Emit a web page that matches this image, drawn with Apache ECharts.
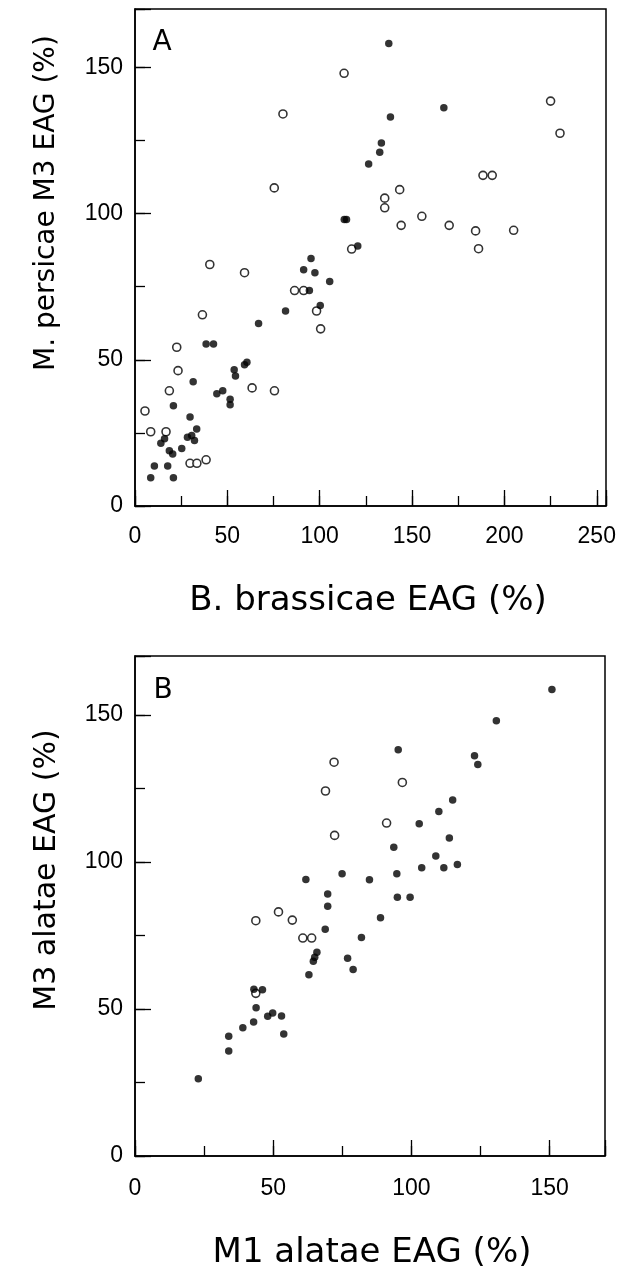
<!DOCTYPE html>
<html>
<head>
<meta charset="utf-8">
<script src="https://cdn.jsdelivr.net/npm/echarts@6/dist/echarts.min.js"></script>
<style>
html,body{margin:0;padding:0;background:#fff;}
#chart{width:631px;height:1270px;}
</style>
</head>
<body>
<div id="chart"></div>
<script>
// Panel A: B. brassicae EAG (%) vs M. persicae M3 EAG (%)
const aOpen = [
  [113.2,148],[80.1,134.1],[225,138.5],[230.1,127.5],[188.4,113.1],[193.4,113.1],
  [75.4,108.8],[143.3,108.2],[135.2,105.3],[135.2,102],[155.3,99.1],[144.1,96],
  [170.1,96],[184.4,94.1],[205,94.3],[186,88],[117.3,87.9],[86.4,73.7],[91.3,73.7],
  [98.3,66.7],[100.5,60.6],[40.5,82.6],[59.3,79.8],[36.5,65.4],[22.6,54.3],[23.3,46.3],
  [18.6,39.4],[5.4,32.5],[8.5,25.4],[16.8,25.4],[29.8,14.6],[33.5,14.6],[38.5,15.8],
  [63.4,40.4],[75.5,39.4]
];
const aFilled = [
  [137.4,158.2],[167.2,136.2],[138.3,133.1],[133.4,124.2],[132.5,121],[126.5,117],
  [113.3,98],[114.5,98],[120.6,88.9],[95.3,84.7],[91.3,80.8],[97.4,79.8],[105.4,76.8],
  [94.4,73.7],[100.3,68.6],[81.5,66.7],[66.9,62.4],[38.5,55.4],[42.5,55.4],[53.7,46.6],
  [54.4,44.5],[59.3,48.3],[60.6,49.2],[31.5,42.5],[20.8,34.3],[29.8,30.4],[14.0,21.5],
  [16.0,23.0],[28.4,23.5],[30.7,24.1],[33.4,26.3],[32.2,22.4],[25.3,19.7],[18.6,18.9],
  [20.4,17.8],[10.5,13.7],[17.7,13.7],[8.5,9.7],[20.8,9.7],[44.3,38.4],[47.5,39.4],
  [51.5,36.5],[51.5,34.6]
];
// Panel B: M1 alatae EAG (%) vs M3 alatae EAG (%)
const bOpen = [
  [72,133.9],[96.7,127],[68.9,124.1],[91,113.2],[72.2,109],[43.7,80],[51.9,83],
  [56.9,80.2],[60.7,74.1],[63.9,74.1],[43.7,55.3]
];
const bFilled = [
  [150.8,158.6],[130.7,148],[95.2,138.1],[122.8,136.1],[124,133.1],[114.9,121],
  [109.9,117.1],[102.8,113],[113.7,108.1],[93.6,105],[108.8,102],[103.7,98],[111.7,98],
  [116.6,99.1],[94.7,96],[74.9,96],[61.8,94],[84.8,93.9],[69.7,89.1],[69.7,84.9],
  [94.9,88],[99.5,88],[88.8,81],[68.8,77.1],[81.9,74.3],[65.8,69.3],[64.5,66.2],
  [65.0,67.6],[76.9,67.2],[78.9,63.4],[62.9,61.6],[43,56.7],[46.1,56.5],[43.8,50.4],
  [48,47.5],[49.8,48.6],[53,47.6],[42.9,45.6],[39,43.6],[33.9,40.7],[53.8,41.5],
  [33.9,35.7],[22.9,26.3]
];
const panelLabels = ['A', 'B'];
const xTitles = ['B. brassicae EAG (%)', 'M1 alatae EAG (%)'];
const yTitles = ['M. persicae M3 EAG (%)', 'M3 alatae EAG (%)'];
const xMax = [255, 170];
const yMax = [170, 170];
const majorStep = 50;
const minorStep = 25;

const tickFont = '"Liberation Sans", Arial, sans-serif';
const titleFont = '"DejaVu Sans", sans-serif';

function majorAxis(gi, max, pos, margin) {
  return {
    gridIndex: gi, type: 'value', min: 0, max: max, interval: majorStep, position: pos,
    axisLine: {show: true, onZero: false, lineStyle: {color: '#000', width: 1.5}},
    axisTick: {show: true, inside: true, length: 16, lineStyle: {color: '#000', width: 1.3}},
    axisLabel: {
      show: true, margin: margin, color: '#000', fontSize: 23, fontFamily: tickFont,
      showMaxLabel: true, hideOverlap: false,
      formatter: v => (v % majorStep === 0 ? String(v) : '')
    },
    splitLine: {show: false}
  };
}
function minorAxis(gi, max, pos) {
  return {
    gridIndex: gi, type: 'value', min: 0, max: max, interval: minorStep, position: pos,
    axisLine: {show: false, onZero: false},
    axisTick: {show: true, inside: true, length: 10, lineStyle: {color: '#000', width: 1.3}},
    axisLabel: {show: false},
    splitLine: {show: false}
  };
}

const chart = echarts.init(document.getElementById('chart'), null, {renderer: 'canvas'});
const option = {
  animation: false,
  backgroundColor: '#fff',
  grid: [
    {left: 135, top: 9, width: 471, height: 497, show: true, borderColor: '#000', borderWidth: 1.5, backgroundColor: 'transparent'},
    {left: 135, top: 656, width: 470, height: 500, show: true, borderColor: '#000', borderWidth: 1.5, backgroundColor: 'transparent'}
  ],
  xAxis: [
    majorAxis(0, xMax[0], 'bottom', 19), minorAxis(0, xMax[0], 'bottom'),
    majorAxis(1, xMax[1], 'bottom', 21), minorAxis(1, xMax[1], 'bottom')
  ],
  yAxis: [
    majorAxis(0, yMax[0], 'left', 12), minorAxis(0, yMax[0], 'left'),
    majorAxis(1, yMax[1], 'left', 12), minorAxis(1, yMax[1], 'left')
  ],
  series: [
    {type: 'scatter', xAxisIndex: 0, yAxisIndex: 0, data: aOpen, symbol: 'circle', symbolSize: 8,
     itemStyle: {color: '#fff', borderColor: '#000', borderWidth: 1.6}, silent: true},
    {type: 'scatter', xAxisIndex: 0, yAxisIndex: 0, data: aFilled, symbol: 'circle', symbolSize: 7.5,
     itemStyle: {color: '#000'}, silent: true},
    {type: 'scatter', xAxisIndex: 2, yAxisIndex: 2, data: bOpen, symbol: 'circle', symbolSize: 8,
     itemStyle: {color: '#fff', borderColor: '#000', borderWidth: 1.6}, silent: true},
    {type: 'scatter', xAxisIndex: 2, yAxisIndex: 2, data: bFilled, symbol: 'circle', symbolSize: 7.5,
     itemStyle: {color: '#000'}, silent: true}
  ],
  graphic: [
    {type: 'text', x: 162, y: 43, style: {text: panelLabels[0], font: '28px ' + titleFont, fill: '#000', align: 'center', verticalAlign: 'middle'}},
    {type: 'text', x: 163, y: 691, style: {text: panelLabels[1], font: '28px ' + titleFont, fill: '#000', align: 'center', verticalAlign: 'middle'}},
    {type: 'text', x: 368, y: 601, style: {text: xTitles[0], font: '34px ' + titleFont, fill: '#000', align: 'center', verticalAlign: 'middle'}},
    {type: 'text', x: 372, y: 1253, style: {text: xTitles[1], font: '34px ' + titleFont, fill: '#000', align: 'center', verticalAlign: 'middle'}},
    {type: 'text', x: 47, y: 203, rotation: Math.PI / 2, style: {text: yTitles[0], font: '28px ' + titleFont, fill: '#000', align: 'center', verticalAlign: 'middle'}},
    {type: 'text', x: 47, y: 870, rotation: Math.PI / 2, style: {text: yTitles[1], font: '30px ' + titleFont, fill: '#000', align: 'center', verticalAlign: 'middle'}}
  ]
};
chart.setOption(option);
</script>
</body>
</html>
